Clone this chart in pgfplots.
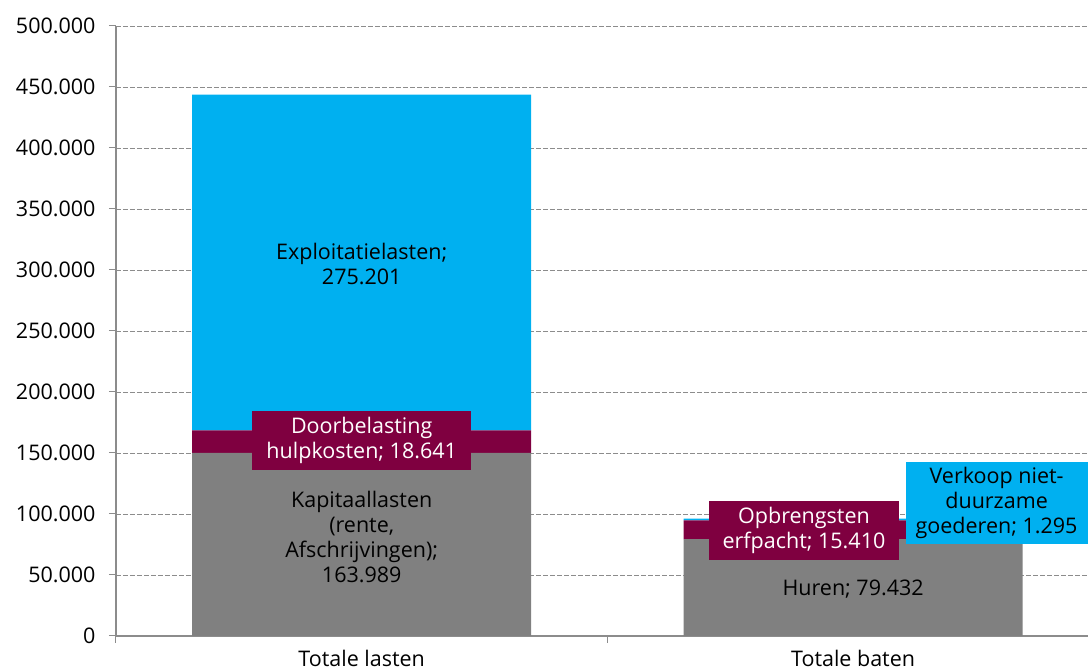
\documentclass[border=0pt]{standalone}
\usepackage{pgfplots}
\pgfplotsset{compat=1.18}
\usepackage{fontspec}
\setmainfont{Open Sans}
\definecolor{cblue}{HTML}{00B0F0}
\definecolor{cpurple}{HTML}{7F0040}
\definecolor{cgray}{HTML}{808080}
\definecolor{axgray}{HTML}{8C8C8C}
\begin{document}
\begin{tikzpicture}[font=\fontsize{21.5}{25}\selectfont]
\path[use as bounding box] (-116pt,-35pt) rectangle (972pt,636pt);
\begin{axis}[at={(0pt,0pt)}, anchor=south west, scale only axis,
  width=972pt, height=610pt,
  ybar stacked, bar width=0.69,
  xmin=-0.5, xmax=1.478, ymin=0, ymax=500000,
  axis x line*=bottom, axis y line*=left,
  axis line style={axgray, line width=1.2pt},
  xtick={-0.5,0.5,1.5}, xticklabels={},
  extra x ticks={0,1}, extra x tick labels={Totale lasten,Totale baten},
  extra x tick style={major tick length=0pt, grid=none},
  tick align=outside, major tick length=7pt,
  tick style={axgray, line width=1pt},
  ytick distance=50000, scaled y ticks=false,
  ticklabel style={font=\fontsize{21.5}{25}\selectfont, text=black},
  yticklabel style={xshift=-10pt, /pgf/number format/.cd, fixed, 1000 sep={.}, assume math mode=true},
  ymajorgrids, grid style={axgray, line width=0.9pt, dash pattern=on 5pt off 2pt},
  xticklabel style={yshift=-11pt},
]
\addplot+[fill=cgray, draw=none] coordinates {(0,150000) (1,79432)};
\addplot+[fill=cpurple, draw=none] coordinates {(0,18641) (1,15410)};
\addplot+[fill=cblue, draw=none] coordinates {(0,275201) (1,1295)};
\coordinate (lExp) at (axis cs:0,305000);
\coordinate (lKap) at (axis cs:0,81000);
\coordinate (lDoor) at (axis cs:0,160200);
\coordinate (lHur) at (axis cs:1,38500);
\coordinate (lOpb) at (axis cs:0.9,86500);
\coordinate (lVer) at (axis cs:1.292,109000);
\end{axis}
\node[align=center] at (lExp) {Exploitatielasten;\\275.201};
\node[align=center] at (lKap) {Kapitaallasten\\(rente,\\Afschrijvingen);\\163.989};
\node[fill=cpurple, text=white, align=center, inner xsep=14pt, inner ysep=6pt] at (lDoor) {Doorbelasting\\hulpkosten; 18.641};
\node at (lHur) {Huren; 79.432};
\node[fill=cpurple, text=white, align=center, inner xsep=14pt, inner ysep=6pt] at (lOpb) {Opbrengsten\\erfpacht; 15.410};
\node[fill=cblue, align=center, inner xsep=10pt, inner ysep=5pt] at (lVer) {Verkoop niet-\\duurzame\\goederen; 1.295};
\end{tikzpicture}
\end{document}
